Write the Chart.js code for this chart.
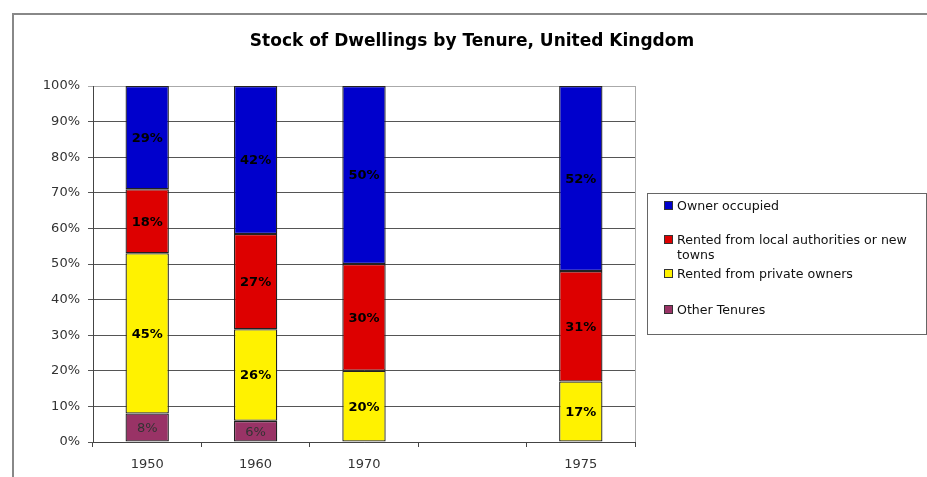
<!DOCTYPE html>
<html><head><meta charset="utf-8">
<script src="https://cdn.jsdelivr.net/npm/chart.js@4"></script>
<style>html,body{margin:0;padding:0;background:#fff;overflow:hidden;}#wrap{width:927px;height:477px;position:relative;}</style>
</head><body><div id="wrap"><canvas id="c" width="927" height="477"></canvas></div>
<script>
const title = 'Stock of Dwellings by Tenure, United Kingdom';
const years = ['1950', '1960', '1970', '', '1975'];
const ownerOccupied = [29, 42, 50, null, 52];
const rentedLocal = [18, 27, 30, null, 31];
const rentedPrivate = [45, 26, 20, null, 17];
const otherTenures = [8, 6, 0, null, 0];
const yTicks = [0, 10, 20, 30, 40, 50, 60, 70, 80, 90, 100];

const series = [
  {label: 'Other Tenures', values: otherTenures, color: '#993366', lblColor: '#333', bold: false},
  {label: 'Rented from private owners', values: rentedPrivate, color: '#FFF200', lblColor: '#000', bold: true},
  {label: 'Rented from local authorities or new towns', values: rentedLocal, color: '#DD0000', lblColor: '#000', bold: true},
  {label: 'Owner occupied', values: ownerOccupied, color: '#0000CC', lblColor: '#000', bold: true}
];
const totals = years.map((_, i) => series.reduce((s, d) => s + (d.values[i] || 0), 0));

const FONT = '"DejaVu Sans", Verdana, sans-serif';

const decor = {
  id: 'decor',
  beforeDraw(chart) {
    const ctx = chart.ctx, a = chart.chartArea;
    ctx.save();
    ctx.fillStyle = '#fff';
    ctx.fillRect(0, 0, chart.width, chart.height);
    ctx.strokeStyle = '#888'; ctx.lineWidth = 2;
    ctx.strokeRect(13, 14, 1000, 1000);
    ctx.strokeStyle = '#aaa'; ctx.lineWidth = 1;
    ctx.strokeRect(a.left + 0.5, a.top + 0.5, a.right - a.left, a.bottom - a.top);
    ctx.fillStyle = '#000';
    ctx.font = 'bold 17px ' + FONT;
    ctx.textAlign = 'center'; ctx.textBaseline = 'middle';
    ctx.fillText(title, 472, 42);
    ctx.restore();
  },
  afterDatasetsDraw(chart) {
    const ctx = chart.ctx;
    ctx.save();
    ctx.textAlign = 'center'; ctx.textBaseline = 'middle';
    chart.data.datasets.forEach((ds, di) => {
      const meta = chart.getDatasetMeta(di);
      const s = series[di];
      meta.data.forEach((el, i) => {
        const v = s.values[i];
        if (!v) return;
        const p = el.getCenterPoint();
        ctx.font = (s.bold ? 'bold ' : '') + '13px ' + FONT;
        ctx.fillStyle = s.lblColor;
        ctx.fillText(v + '%', p.x, p.y + 1);
      });
    });
    // legend
    ctx.strokeStyle = '#666'; ctx.lineWidth = 1;
    ctx.strokeRect(647.5, 193.5, 279, 141);
    const rows = [206, 240, 274, 310];
    const order = [3, 2, 1, 0];
    ctx.textAlign = 'left';
    ctx.font = '12.6px ' + FONT;
    order.forEach((di, k) => {
      const s = series[di];
      const y = rows[k];
      ctx.fillStyle = s.color;
      ctx.fillRect(665, y - 4, 7, 7);
      ctx.strokeStyle = '#333';
      ctx.strokeRect(664.5, y - 4.5, 8, 8);
      ctx.fillStyle = '#111';
      const words = s.label.split(' ');
      let line = '';
      const lines = [];
      words.forEach(w => {
        const t = line ? line + ' ' + w : w;
        if (ctx.measureText(t).width > 244 && line) { lines.push(line); line = w; } else line = t;
      });
      lines.push(line);
      lines.forEach((l, j) => ctx.fillText(l, 677, y + 1 + j * 15));
    });
    ctx.restore();
  }
};

new Chart(document.getElementById('c'), {
  type: 'bar',
  data: {
    labels: years,
    datasets: series.map(s => ({
      label: s.label,
      data: s.values.map((v, i) => v === null ? null : (v || 0) / totals[i] * 100),
      backgroundColor: s.color,
      borderColor: '#222',
      borderWidth: 1.3,
      borderSkipped: false,
      barPercentage: 0.4,
      categoryPercentage: 1.0
    }))
  },
  options: {
    responsive: false,
    maintainAspectRatio: false,
    animation: false,
    devicePixelRatio: 1,
    layout: {padding: {top: 86, right: 292, left: 0, bottom: 0}},
    plugins: {legend: {display: false}, title: {display: false}, tooltip: {enabled: false}},
    scales: {
      x: {
        stacked: true,
        grid: {drawOnChartArea: false, drawTicks: true, tickLength: 5, color: '#444', offset: true},
        border: {color: '#444'},
        ticks: {color: '#333', font: {family: FONT, size: 13}, padding: 10, maxRotation: 0, autoSkip: false},
        afterFit(s) { s.height = 35; }
      },
      y: {
        stacked: true,
        min: 0, max: 100,
        afterBuildTicks(s) { s.ticks = yTicks.map(v => ({value: v})); },
        grid: {color: ctx => (ctx.tick && ctx.tick.value === 100) ? '#aaa' : '#555', tickLength: 5, drawTicks: true},
        border: {color: '#444'},
        ticks: {color: '#333', font: {family: FONT, size: 13}, padding: 8, callback: v => v + '%'},
        afterFit(s) { s.width = 93; }
      }
    }
  },
  plugins: [decor]
});
</script>
</body></html>
